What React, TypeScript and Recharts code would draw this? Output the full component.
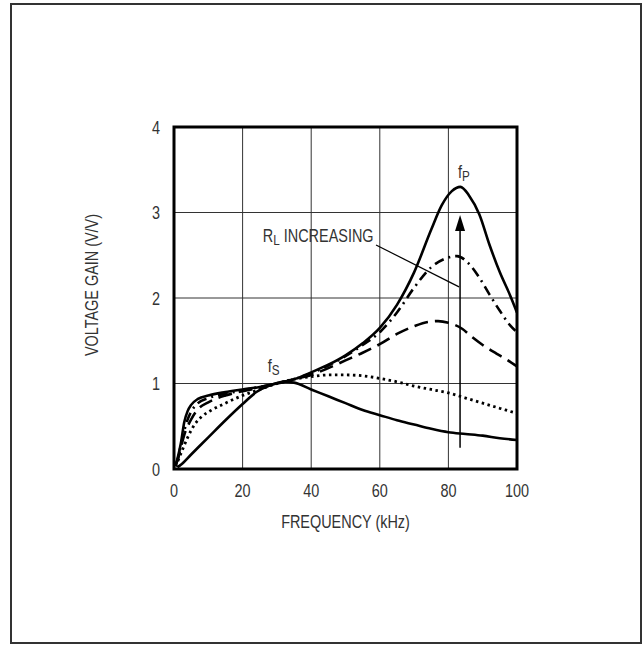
import React from 'react';
import {
  ComposedChart, Line, XAxis, YAxis, CartesianGrid, ReferenceLine, ReferenceDot, ReferenceArea,
} from 'recharts';

// ---- data (frequency kHz, voltage gain V/V) ----
const s1Freq = [0.5, 1, 2, 3, 4, 5, 7, 10, 15, 20, 25, 30, 35, 40, 45, 50, 55, 60, 65, 70, 75, 78, 81, 83.5, 86, 89, 92, 95, 98, 100];
const s1Gain = [0.05, 0.12, 0.3, 0.55, 0.68, 0.75, 0.82, 0.86, 0.9, 0.93, 0.96, 1.0, 1.05, 1.13, 1.22, 1.33, 1.47, 1.65, 1.92, 2.3, 2.8, 3.08, 3.25, 3.3, 3.2, 2.98, 2.62, 2.3, 2.03, 1.83];

const s2Freq = [0.5, 1, 2, 3, 4, 5, 7, 10, 15, 20, 25, 30, 35, 40, 45, 50, 55, 60, 65, 70, 75, 79, 82.5, 86, 89, 92, 95, 98, 100];
const s2Gain = [0.05, 0.1, 0.28, 0.45, 0.58, 0.67, 0.77, 0.83, 0.88, 0.92, 0.96, 1.0, 1.05, 1.12, 1.21, 1.32, 1.45, 1.6, 1.83, 2.12, 2.36, 2.46, 2.49, 2.4, 2.24, 2.04, 1.85, 1.68, 1.6];

const s3Freq = [0.5, 1, 2, 3, 4, 5, 7, 10, 15, 20, 25, 30, 35, 40, 45, 50, 55, 60, 65, 70, 74, 77, 80, 84, 87, 90, 94, 97, 100];
const s3Gain = [0.05, 0.1, 0.25, 0.4, 0.5, 0.58, 0.7, 0.78, 0.86, 0.91, 0.95, 1.0, 1.05, 1.1, 1.18, 1.27, 1.36, 1.46, 1.58, 1.67, 1.72, 1.73, 1.71, 1.64, 1.54, 1.45, 1.35, 1.28, 1.2];

const s4Freq = [0.5, 1, 2, 4, 6, 8, 11, 15, 20, 25, 30, 35, 40, 45, 50, 55, 60, 65, 70, 75, 80, 85, 90, 95, 100];
const s4Gain = [0.03, 0.08, 0.18, 0.37, 0.52, 0.61, 0.69, 0.77, 0.86, 0.93, 1.0, 1.05, 1.08, 1.1, 1.1, 1.09, 1.06, 1.02, 0.97, 0.93, 0.89, 0.83, 0.77, 0.71, 0.65];

const s5Freq = [1, 2, 5, 10, 15, 20, 24, 28, 32, 35, 40, 45, 50, 55, 60, 65, 70, 75, 80, 85, 90, 95, 100];
const s5Gain = [0.02, 0.05, 0.17, 0.37, 0.57, 0.76, 0.9, 0.98, 1.02, 1.01, 0.93, 0.85, 0.77, 0.69, 0.63, 0.57, 0.52, 0.47, 0.43, 0.41, 0.39, 0.36, 0.34];

const xTicks = [0, 20, 40, 60, 80, 100];
const yTicks = [0, 1, 2, 3, 4];

const xAxisLabel = 'FREQUENCY (kHz)';
const yAxisLabel = 'VOLTAGE GAIN (V/V)';

// annotations (data coordinates)
const annotLine = [{ x: 58.9, y: 2.62 }, { x: 83.1, y: 2.13 }];
const arrowLine = [{ x: 83.4, y: 0.25 }, { x: 83.4, y: 2.85 }];
const arrowTip = { x: 83.4, y: 2.97 };
const fsPos = { x: 27.3, y: 1.135 };
const fpPos = { x: 82.8, y: 3.4 };
const rlPos = { x: 25.9, y: 2.65 };

const zip = (xs: number[], ys: number[]) => xs.map((x, i) => ({ x, y: ys[i] }));
const s1 = zip(s1Freq, s1Gain);
const s2 = zip(s2Freq, s2Gain);
const s3 = zip(s3Freq, s3Gain);
const s4 = zip(s4Freq, s4Gain);
const s5 = zip(s5Freq, s5Gain);

const FONT = '"Liberation Sans", Arial, sans-serif';
const TXT = '#333';
const FS = 18.5;
const SUB = 15;
const SX = 0.78;

const CText = ({ x, y, anchor = 'start', dy, rotate = 0, children }: any) => (
  <text
    transform={`translate(${x},${y}) rotate(${rotate}) scale(${SX},1)`}
    x={0}
    y={0}
    dy={dy}
    textAnchor={anchor}
    fill={TXT}
    fontSize={FS}
    fontFamily={FONT}
  >
    {children}
  </text>
);

export default function App() {
  return (
    <div style={{ position: 'fixed', left: 0, top: 0, width: 644, height: 645, background: '#fff' }}>
      <div style={{ position: 'absolute', left: 10, top: 3, width: 632, height: 641, border: '2px solid #333', boxSizing: 'border-box' }} />
      <div style={{ position: 'absolute', left: 0, top: 0 }}>
        <ComposedChart width={644} height={645} margin={{ top: 127, right: 127, left: 114, bottom: 106 }}>
          <CartesianGrid stroke="#333" strokeWidth={1} horizontalValues={[1, 2, 3]} verticalValues={[20, 40, 60, 80]} />
          <XAxis
            type="number"
            dataKey="x"
            domain={[0, 100]}
            ticks={xTicks}
            allowDataOverflow
            axisLine={false}
            tickLine={false}
            height={70}
            tickMargin={9}
            tick={(p: any) => (
              <CText x={p.x} y={p.y} anchor="middle" dy="0.71em">{p.payload.value}</CText>
            )}
            label={(props: any) => {
              const vb = props.viewBox || {};
              return <CText x={vb.x + vb.width / 2} y={vb.y + 59} anchor="middle">{xAxisLabel}</CText>;
            }}
          />
          <YAxis
            type="number"
            dataKey="y"
            domain={[0, 4]}
            ticks={yTicks}
            allowDataOverflow
            axisLine={false}
            tickLine={false}
            width={60}
            tickMargin={8}
            tick={(p: any) => (
              <CText x={p.x} y={p.y} anchor="end" dy="0.355em">{p.payload.value}</CText>
            )}
            label={() => <CText x={91} y={285} anchor="middle" dy="0.355em" rotate={-90}>{yAxisLabel}</CText>}
          />
          <Line data={s5} dataKey="y" type="monotone" stroke="#000" strokeWidth={2.6} dot={false} isAnimationActive={false} />
          <Line data={s4} dataKey="y" type="monotone" stroke="#000" strokeWidth={2.8} strokeDasharray="2.5 3.5" dot={false} isAnimationActive={false} />
          <Line data={s3} dataKey="y" type="monotone" stroke="#000" strokeWidth={2.6} strokeDasharray="14 7" dot={false} isAnimationActive={false} />
          <Line data={s2} dataKey="y" type="monotone" stroke="#000" strokeWidth={2.6} strokeDasharray="10 5 2 5" dot={false} isAnimationActive={false} />
          <Line data={s1} dataKey="y" type="monotone" stroke="#000" strokeWidth={2.6} dot={false} isAnimationActive={false} />
          <ReferenceLine segment={annotLine} stroke="#000" strokeWidth={1.2} ifOverflow="visible" />
          <ReferenceLine segment={arrowLine} stroke="#000" strokeWidth={1.5} ifOverflow="visible" />
          <ReferenceDot
            x={arrowTip.x}
            y={arrowTip.y}
            r={0}
            ifOverflow="visible"
            shape={(p: any) => (
              <path d={`M${p.cx},${p.cy} L${p.cx - 5},${p.cy + 16} L${p.cx + 5},${p.cy + 16} Z`} fill="#000" />
            )}
          />
          <ReferenceDot
            x={fsPos.x}
            y={fsPos.y}
            r={0}
            ifOverflow="visible"
            shape={(p: any) => (
              <CText x={p.cx} y={p.cy}>f<tspan fontSize={SUB} dy={3}>S</tspan></CText>
            )}
          />
          <ReferenceDot
            x={fpPos.x}
            y={fpPos.y}
            r={0}
            ifOverflow="visible"
            shape={(p: any) => (
              <CText x={p.cx} y={p.cy}>f<tspan fontSize={SUB} dy={3}>P</tspan></CText>
            )}
          />
          <ReferenceDot
            x={rlPos.x}
            y={rlPos.y}
            r={0}
            ifOverflow="visible"
            shape={(p: any) => (
              <CText x={p.cx} y={p.cy}>R<tspan fontSize={SUB} dy={3}>L</tspan><tspan dy={-3}> INCREASING</tspan></CText>
            )}
          />
          <ReferenceArea x1={0} x2={100} y1={0} y2={4} fill="none" stroke="#000" strokeWidth={3} ifOverflow="visible" />
        </ComposedChart>
      </div>
    </div>
  );
}
